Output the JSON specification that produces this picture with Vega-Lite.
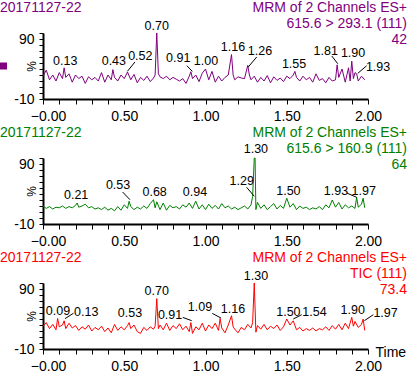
{
  "$schema": "https://vega.github.io/schema/vega-lite/v6.json",
  "padding": 0,
  "bounds": "flush",
  "spacing": 59,
  "config": {
    "font": "Liberation Sans",
    "view": {"stroke": null},
    "axis": {"grid": false, "domainColor": "black", "domainWidth": 2, "ticks": true, "tickColor": "black", "tickWidth": 1, "labelColor": "black", "labelFontSize": 14, "titleColor": "black", "titleFontWeight": "normal", "labelOverlap": false, "labelFlush": false, "labelBound": false}
  },
  "datasets": {
    "p1": [
      {"t":0.00,"v":28},{"t":0.02,"v":38},{"t":0.04,"v":22},{"t":0.06,"v":30},{"t":0.08,"v":20},{"t":0.10,"v":34},{"t":0.12,"v":24},{"t":0.13,"v":42},{"t":0.14,"v":26},{"t":0.16,"v":32},{"t":0.18,"v":18},{"t":0.20,"v":30},{"t":0.22,"v":24},{"t":0.24,"v":28},{"t":0.26,"v":16},{"t":0.28,"v":27},{"t":0.30,"v":22},{"t":0.32,"v":26},{"t":0.34,"v":20},{"t":0.36,"v":34},{"t":0.38,"v":18},{"t":0.40,"v":30},{"t":0.42,"v":22},{"t":0.43,"v":39},{"t":0.44,"v":26},{"t":0.46,"v":20},{"t":0.48,"v":30},{"t":0.50,"v":24},{"t":0.52,"v":35},{"t":0.54,"v":22},{"t":0.56,"v":31},{"t":0.58,"v":17},{"t":0.60,"v":26},{"t":0.62,"v":21},{"t":0.64,"v":28},{"t":0.66,"v":19},{"t":0.68,"v":25},{"t":0.69,"v":30},{"t":0.70,"v":100},{"t":0.71,"v":32},{"t":0.72,"v":27},{"t":0.74,"v":24},{"t":0.76,"v":28},{"t":0.78,"v":22},{"t":0.80,"v":26},{"t":0.82,"v":23},{"t":0.84,"v":20},{"t":0.86,"v":24},{"t":0.88,"v":16},{"t":0.90,"v":28},{"t":0.91,"v":35.5},{"t":0.92,"v":24},{"t":0.94,"v":30},{"t":0.96,"v":19},{"t":0.98,"v":33},{"t":1.00,"v":40},{"t":1.02,"v":22},{"t":1.04,"v":36},{"t":1.06,"v":18},{"t":1.08,"v":28},{"t":1.10,"v":20},{"t":1.12,"v":26},{"t":1.14,"v":30},{"t":1.16,"v":64},{"t":1.17,"v":30},{"t":1.18,"v":22},{"t":1.20,"v":27},{"t":1.22,"v":25},{"t":1.24,"v":24},{"t":1.26,"v":46},{"t":1.27,"v":30},{"t":1.28,"v":22},{"t":1.30,"v":28},{"t":1.32,"v":18},{"t":1.34,"v":26},{"t":1.36,"v":20},{"t":1.38,"v":29},{"t":1.40,"v":17},{"t":1.42,"v":27},{"t":1.44,"v":21},{"t":1.46,"v":25},{"t":1.48,"v":19},{"t":1.50,"v":28},{"t":1.52,"v":24},{"t":1.54,"v":30},{"t":1.55,"v":36},{"t":1.56,"v":26},{"t":1.58,"v":20},{"t":1.60,"v":28},{"t":1.62,"v":22},{"t":1.64,"v":26},{"t":1.66,"v":18},{"t":1.68,"v":32},{"t":1.70,"v":21},{"t":1.72,"v":24},{"t":1.74,"v":17},{"t":1.76,"v":26},{"t":1.78,"v":20},{"t":1.80,"v":22},{"t":1.81,"v":47},{"t":1.82,"v":26},{"t":1.84,"v":40},{"t":1.86,"v":18},{"t":1.88,"v":42},{"t":1.89,"v":20},{"t":1.90,"v":53},{"t":1.91,"v":24},{"t":1.92,"v":34},{"t":1.93,"v":32},{"t":1.94,"v":20},{"t":1.96,"v":28},{"t":1.98,"v":22}
    ],
    "p1labels": [
      {"lx":0.137,"ly":53.8,"label":"0.13"},{"lx":0.436,"ly":53.8,"label":"0.43"},{"lx":0.599,"ly":62.2,"label":"0.52"},{"lx":0.700,"ly":112.2,"label":"0.70"},{"lx":0.832,"ly":58.8,"label":"0.91"},{"lx":1.003,"ly":53.8,"label":"1.00"},{"lx":1.169,"ly":76.7,"label":"1.16"},{"lx":1.335,"ly":70,"label":"1.26"},{"lx":1.545,"ly":48.8,"label":"1.55"},{"lx":1.740,"ly":70.5,"label":"1.81"},{"lx":1.908,"ly":67.2,"label":"1.90"},{"lx":2.062,"ly":42.7,"label":"1.93"}
    ],
    "p1leaders": [
      {"x1":0.519,"y1":36,"x2":0.566,"y2":51.7},{"x1":0.885,"y1":45.5,"x2":0.919,"y2":36},{"x1":1.263,"y1":43.3,"x2":1.315,"y2":60},{"x1":1.777,"y1":61.7,"x2":1.814,"y2":48.8},{"x1":1.937,"y1":32.7,"x2":1.992,"y2":45.5}
    ],
    "p2": [
      {"t":0.00,"v":20},{"t":0.02,"v":16},{"t":0.04,"v":19},{"t":0.06,"v":15},{"t":0.08,"v":18},{"t":0.10,"v":17},{"t":0.12,"v":20},{"t":0.14,"v":16},{"t":0.16,"v":19},{"t":0.18,"v":17},{"t":0.20,"v":21},{"t":0.21,"v":25},{"t":0.22,"v":18},{"t":0.24,"v":20},{"t":0.26,"v":23},{"t":0.28,"v":17},{"t":0.30,"v":19},{"t":0.32,"v":15},{"t":0.34,"v":17},{"t":0.36,"v":14},{"t":0.38,"v":18},{"t":0.40,"v":13},{"t":0.42,"v":16},{"t":0.44,"v":12},{"t":0.46,"v":19},{"t":0.48,"v":13},{"t":0.50,"v":22},{"t":0.52,"v":16},{"t":0.53,"v":28},{"t":0.54,"v":19},{"t":0.56,"v":14},{"t":0.58,"v":18},{"t":0.60,"v":15},{"t":0.62,"v":20},{"t":0.64,"v":16},{"t":0.66,"v":24},{"t":0.68,"v":30.5},{"t":0.69,"v":17},{"t":0.70,"v":27},{"t":0.72,"v":14},{"t":0.74,"v":25},{"t":0.76,"v":13},{"t":0.78,"v":21},{"t":0.80,"v":17},{"t":0.82,"v":19},{"t":0.84,"v":15},{"t":0.86,"v":22},{"t":0.88,"v":18},{"t":0.90,"v":25},{"t":0.92,"v":16},{"t":0.94,"v":28},{"t":0.96,"v":15},{"t":0.98,"v":22},{"t":1.00,"v":14},{"t":1.02,"v":23},{"t":1.04,"v":16},{"t":1.06,"v":21},{"t":1.08,"v":15},{"t":1.10,"v":24},{"t":1.12,"v":17},{"t":1.14,"v":20},{"t":1.16,"v":15},{"t":1.18,"v":18},{"t":1.20,"v":14},{"t":1.22,"v":17},{"t":1.24,"v":20},{"t":1.26,"v":15},{"t":1.28,"v":22},{"t":1.29,"v":36},{"t":1.30,"v":100},{"t":1.305,"v":100},{"t":1.31,"v":14},{"t":1.32,"v":26},{"t":1.34,"v":16},{"t":1.36,"v":22},{"t":1.38,"v":14},{"t":1.40,"v":19},{"t":1.42,"v":24},{"t":1.44,"v":15},{"t":1.46,"v":21},{"t":1.48,"v":16},{"t":1.50,"v":33},{"t":1.52,"v":18},{"t":1.54,"v":24},{"t":1.56,"v":14},{"t":1.58,"v":20},{"t":1.60,"v":16},{"t":1.62,"v":18},{"t":1.64,"v":14},{"t":1.66,"v":17},{"t":1.68,"v":15},{"t":1.70,"v":19},{"t":1.72,"v":14},{"t":1.74,"v":22},{"t":1.76,"v":17},{"t":1.78,"v":30},{"t":1.80,"v":18},{"t":1.82,"v":26},{"t":1.84,"v":15},{"t":1.86,"v":22},{"t":1.88,"v":17},{"t":1.90,"v":20},{"t":1.92,"v":16},{"t":1.93,"v":34.5},{"t":1.94,"v":18},{"t":1.96,"v":23},{"t":1.97,"v":33},{"t":1.98,"v":17}
    ],
    "p2labels": [
      {"lx":0.204,"ly":38.8,"label":"0.21"},{"lx":0.462,"ly":55.5,"label":"0.53"},{"lx":0.687,"ly":43.3,"label":"0.68"},{"lx":0.935,"ly":43.3,"label":"0.94"},{"lx":1.223,"ly":61.2,"label":"1.29"},{"lx":1.310,"ly":115.5,"label":"1.30"},{"lx":1.510,"ly":45.5,"label":"1.50"},{"lx":1.803,"ly":45.5,"label":"1.93"},{"lx":1.974,"ly":45.5,"label":"1.97"}
    ],
    "p2leaders": [
      {"x1":0.490,"y1":43.3,"x2":0.535,"y2":30.5},{"x1":1.253,"y1":51.2,"x2":1.300,"y2":36.2},{"x1":1.869,"y1":41.7,"x2":1.930,"y2":34.5}
    ],
    "p3": [
      {"t":0.00,"v":28},{"t":0.02,"v":34},{"t":0.04,"v":24},{"t":0.06,"v":31},{"t":0.08,"v":22},{"t":0.09,"v":41},{"t":0.10,"v":27},{"t":0.12,"v":30},{"t":0.13,"v":37},{"t":0.14,"v":24},{"t":0.16,"v":33},{"t":0.18,"v":25},{"t":0.20,"v":29},{"t":0.22,"v":21},{"t":0.24,"v":27},{"t":0.26,"v":23},{"t":0.28,"v":30},{"t":0.30,"v":20},{"t":0.32,"v":26},{"t":0.34,"v":22},{"t":0.36,"v":28},{"t":0.38,"v":19},{"t":0.40,"v":25},{"t":0.42,"v":17},{"t":0.44,"v":31},{"t":0.46,"v":21},{"t":0.48,"v":27},{"t":0.50,"v":22},{"t":0.52,"v":29},{"t":0.53,"v":34},{"t":0.54,"v":24},{"t":0.56,"v":30},{"t":0.58,"v":19},{"t":0.60,"v":16},{"t":0.62,"v":26},{"t":0.64,"v":21},{"t":0.66,"v":27},{"t":0.68,"v":23},{"t":0.69,"v":28},{"t":0.70,"v":74},{"t":0.71,"v":24},{"t":0.72,"v":30},{"t":0.74,"v":22},{"t":0.76,"v":33},{"t":0.78,"v":21},{"t":0.80,"v":29},{"t":0.82,"v":24},{"t":0.84,"v":32},{"t":0.86,"v":22},{"t":0.88,"v":28},{"t":0.90,"v":19},{"t":0.91,"v":34},{"t":0.92,"v":16},{"t":0.94,"v":27},{"t":0.96,"v":22},{"t":0.98,"v":33},{"t":1.00,"v":20},{"t":1.02,"v":30},{"t":1.04,"v":24},{"t":1.06,"v":33},{"t":1.08,"v":21},{"t":1.09,"v":41},{"t":1.10,"v":25},{"t":1.12,"v":17},{"t":1.14,"v":30},{"t":1.16,"v":45.5},{"t":1.17,"v":27},{"t":1.18,"v":23},{"t":1.20,"v":17},{"t":1.22,"v":26},{"t":1.24,"v":22},{"t":1.26,"v":31},{"t":1.28,"v":25},{"t":1.29,"v":34},{"t":1.30,"v":100},{"t":1.31,"v":18},{"t":1.32,"v":29},{"t":1.34,"v":23},{"t":1.36,"v":31},{"t":1.38,"v":22},{"t":1.40,"v":28},{"t":1.42,"v":24},{"t":1.44,"v":30},{"t":1.46,"v":21},{"t":1.48,"v":27},{"t":1.50,"v":40},{"t":1.52,"v":30},{"t":1.54,"v":37},{"t":1.56,"v":22},{"t":1.58,"v":26},{"t":1.60,"v":20},{"t":1.62,"v":24},{"t":1.64,"v":21},{"t":1.66,"v":25},{"t":1.68,"v":20},{"t":1.70,"v":24},{"t":1.72,"v":22},{"t":1.74,"v":27},{"t":1.76,"v":21},{"t":1.78,"v":29},{"t":1.80,"v":23},{"t":1.82,"v":31},{"t":1.84,"v":22},{"t":1.86,"v":33},{"t":1.88,"v":24},{"t":1.90,"v":42.7},{"t":1.91,"v":28},{"t":1.92,"v":36},{"t":1.94,"v":26},{"t":1.96,"v":31},{"t":1.97,"v":40},{"t":1.98,"v":21}
    ],
    "p3labels": [
      {"lx":0.092,"ly":53.8,"label":"0.09"},{"lx":0.266,"ly":51,"label":"0.13"},{"lx":0.535,"ly":49.3,"label":"0.53"},{"lx":0.700,"ly":87.2,"label":"0.70"},{"lx":0.782,"ly":47.2,"label":"0.91"},{"lx":0.966,"ly":59.3,"label":"1.09"},{"lx":1.169,"ly":56.7,"label":"1.16"},{"lx":1.311,"ly":112.2,"label":"1.30"},{"lx":1.510,"ly":51,"label":"1.50"},{"lx":1.671,"ly":51,"label":"1.54"},{"lx":1.906,"ly":55,"label":"1.90"},{"lx":2.108,"ly":49.3,"label":"1.97"}
    ],
    "p3leaders": [
      {"x1":0.135,"y1":40.5,"x2":0.188,"y2":49.7},{"x1":0.860,"y1":42.7,"x2":0.915,"y2":37.2},{"x1":1.042,"y1":49.3,"x2":1.095,"y2":41.7},{"x1":1.540,"y1":40,"x2":1.592,"y2":47.2},{"x1":1.978,"y1":37.2,"x2":2.033,"y2":47.2}
    ]
  },
  "vconcat": [
    {
      "width": 325, "height": 66,
      "layer": [
        {"data": {"name": "p1"}, "mark": {"type": "line", "color": "#800080", "strokeWidth": 1},
         "encoding": {
           "x": {"field": "t", "type": "quantitative", "scale": {"domain": [0, 2], "nice": false, "zero": false},
                 "axis": {"title": null, "tickCount": 50, "values": [0,0.1,0.2,0.3,0.4,0.5,0.6,0.7,0.8,0.9,1,1.1,1.2,1.3,1.4,1.5,1.6,1.7,1.8,1.9,2], "labelExpr": "round(datum.value*10) % 5 == 0 ? (datum.value == 0 ? '−0.00' : format(datum.value, '.2f')) : ''", "labelOffset": {"condition": {"test": "datum.value == 0", "value": 5}, "value": 0}, "labelOverlap": false, "ticks": true, "tickSize": 5, "labelPadding": 5}},
           "y": {"field": "v", "type": "quantitative", "scale": {"domain": [-10, 100], "nice": false, "zero": false},
                 "axis": {"title": "%", "tickCount": 50, "values": [-10,0,10,20,30,40,50,60,70,80,90,100], "labelExpr": "datum.value == 90 ? '90' : (datum.value == -10 ? '-10' : '')", "labelOverlap": false, "ticks": true, "tickSize": 4, "labelPadding": 5, "titleX": -12, "titleY": 33, "titleAngle": -90, "titleAlign": "center", "titleBaseline": "middle", "titleFontSize": 12}}
         }},
        {"data": {"name": "p1leaders"}, "mark": {"type": "rule", "color": "black", "strokeWidth": 1},
         "encoding": {"x": {"field": "x1", "type": "quantitative"}, "x2": {"field": "x2"}, "y": {"field": "y1", "type": "quantitative"}, "y2": {"field": "y2"}}},
        {"data": {"name": "p1labels"}, "mark": {"type": "text", "fontSize": 12.5, "color": "black", "baseline": "middle"},
         "encoding": {"x": {"field": "lx", "type": "quantitative"}, "y": {"field": "ly", "type": "quantitative"}, "text": {"field": "label"}}},
        {"data": {"values": [{}]}, "mark": {"type": "text", "align": "left", "baseline": "alphabetic", "fontSize": 14, "color": "#800080", "dx": -43, "dy": -21.5},
         "encoding": {"x": {"datum": 0}, "y": {"datum": 100}, "text": {"value": "20171127-22"}}},
        {"data": {"values": [{}]}, "mark": {"type": "text", "align": "right", "baseline": "alphabetic", "fontSize": 14, "color": "#800080", "dx": 39, "dy": -21.5, "lineBreak": "\n", "lineHeight": 16},
         "encoding": {"x": {"datum": 2}, "y": {"datum": 100}, "text": {"value": "MRM of 2 Channels ES+\n615.6 > 293.1 (111)\n42"}}},
        {"data": {"values": [{}]}, "mark": {"type": "point", "shape": "square", "filled": true, "size": 49, "color": "#800080", "opacity": 1},
         "encoding": {"x": {"datum": -0.243}, "y": {"datum": 45}}}
      ]
    },
    {
      "width": 325, "height": 66,
      "layer": [
        {"data": {"name": "p2"}, "mark": {"type": "line", "color": "#008000", "strokeWidth": 1},
         "encoding": {
           "x": {"field": "t", "type": "quantitative", "scale": {"domain": [0, 2], "nice": false, "zero": false},
                 "axis": {"title": null, "tickCount": 50, "values": [0,0.1,0.2,0.3,0.4,0.5,0.6,0.7,0.8,0.9,1,1.1,1.2,1.3,1.4,1.5,1.6,1.7,1.8,1.9,2], "labelExpr": "round(datum.value*10) % 5 == 0 ? (datum.value == 0 ? '−0.00' : format(datum.value, '.2f')) : ''", "labelOffset": {"condition": {"test": "datum.value == 0", "value": 5}, "value": 0}, "labelOverlap": false, "ticks": true, "tickSize": 5, "labelPadding": 5}},
           "y": {"field": "v", "type": "quantitative", "scale": {"domain": [-10, 100], "nice": false, "zero": false},
                 "axis": {"title": "%", "tickCount": 50, "values": [-10,0,10,20,30,40,50,60,70,80,90,100], "labelExpr": "datum.value == 90 ? '90' : (datum.value == -10 ? '-10' : '')", "labelOverlap": false, "ticks": true, "tickSize": 4, "labelPadding": 5, "titleX": -12, "titleY": 33, "titleAngle": -90, "titleAlign": "center", "titleBaseline": "middle", "titleFontSize": 12}}
         }},
        {"data": {"name": "p2leaders"}, "mark": {"type": "rule", "color": "black", "strokeWidth": 1},
         "encoding": {"x": {"field": "x1", "type": "quantitative"}, "x2": {"field": "x2"}, "y": {"field": "y1", "type": "quantitative"}, "y2": {"field": "y2"}}},
        {"data": {"name": "p2labels"}, "mark": {"type": "text", "fontSize": 12.5, "color": "black", "baseline": "middle"},
         "encoding": {"x": {"field": "lx", "type": "quantitative"}, "y": {"field": "ly", "type": "quantitative"}, "text": {"field": "label"}}},
        {"data": {"values": [{}]}, "mark": {"type": "text", "align": "left", "baseline": "alphabetic", "fontSize": 14, "color": "#008000", "dx": -43, "dy": -21.5},
         "encoding": {"x": {"datum": 0}, "y": {"datum": 100}, "text": {"value": "20171127-22"}}},
        {"data": {"values": [{}]}, "mark": {"type": "text", "align": "right", "baseline": "alphabetic", "fontSize": 14, "color": "#008000", "dx": 39, "dy": -21.5, "lineBreak": "\n", "lineHeight": 16},
         "encoding": {"x": {"datum": 2}, "y": {"datum": 100}, "text": {"value": "MRM of 2 Channels ES+\n615.6 > 160.9 (111)\n64"}}}
      ]
    },
    {
      "width": 325, "height": 66,
      "layer": [
        {"data": {"name": "p3"}, "mark": {"type": "line", "color": "#FF0000", "strokeWidth": 1},
         "encoding": {
           "x": {"field": "t", "type": "quantitative", "scale": {"domain": [0, 2], "nice": false, "zero": false},
                 "axis": {"title": "Time", "titleX": 332, "titleY": 7, "titleAlign": "left", "titleBaseline": "alphabetic", "titleFontSize": 14, "tickCount": 50, "values": [0,0.1,0.2,0.3,0.4,0.5,0.6,0.7,0.8,0.9,1,1.1,1.2,1.3,1.4,1.5,1.6,1.7,1.8,1.9,2], "labelExpr": "round(datum.value*10) % 5 == 0 ? (datum.value == 0 ? '−0.00' : format(datum.value, '.2f')) : ''", "labelOffset": {"condition": {"test": "datum.value == 0", "value": 5}, "value": 0}, "labelOverlap": false, "ticks": true, "tickSize": 5, "labelPadding": 5}},
           "y": {"field": "v", "type": "quantitative", "scale": {"domain": [-10, 100], "nice": false, "zero": false},
                 "axis": {"title": "%", "tickCount": 50, "values": [-10,0,10,20,30,40,50,60,70,80,90,100], "labelExpr": "datum.value == 90 ? '90' : (datum.value == -10 ? '-10' : '')", "labelOverlap": false, "ticks": true, "tickSize": 4, "labelPadding": 5, "titleX": -12, "titleY": 33, "titleAngle": -90, "titleAlign": "center", "titleBaseline": "middle", "titleFontSize": 12}}
         }},
        {"data": {"name": "p3leaders"}, "mark": {"type": "rule", "color": "black", "strokeWidth": 1},
         "encoding": {"x": {"field": "x1", "type": "quantitative"}, "x2": {"field": "x2"}, "y": {"field": "y1", "type": "quantitative"}, "y2": {"field": "y2"}}},
        {"data": {"name": "p3labels"}, "mark": {"type": "text", "fontSize": 12.5, "color": "black", "baseline": "middle"},
         "encoding": {"x": {"field": "lx", "type": "quantitative"}, "y": {"field": "ly", "type": "quantitative"}, "text": {"field": "label"}}},
        {"data": {"values": [{}]}, "mark": {"type": "text", "align": "left", "baseline": "alphabetic", "fontSize": 14, "color": "#FF0000", "dx": -43, "dy": -21.5},
         "encoding": {"x": {"datum": 0}, "y": {"datum": 100}, "text": {"value": "20171127-22"}}},
        {"data": {"values": [{}]}, "mark": {"type": "text", "align": "right", "baseline": "alphabetic", "fontSize": 14, "color": "#FF0000", "dx": 39, "dy": -21.5, "lineBreak": "\n", "lineHeight": 16},
         "encoding": {"x": {"datum": 2}, "y": {"datum": 100}, "text": {"value": "MRM of 2 Channels ES+\nTIC (111)\n73.4"}}}
      ]
    }
  ]
}
